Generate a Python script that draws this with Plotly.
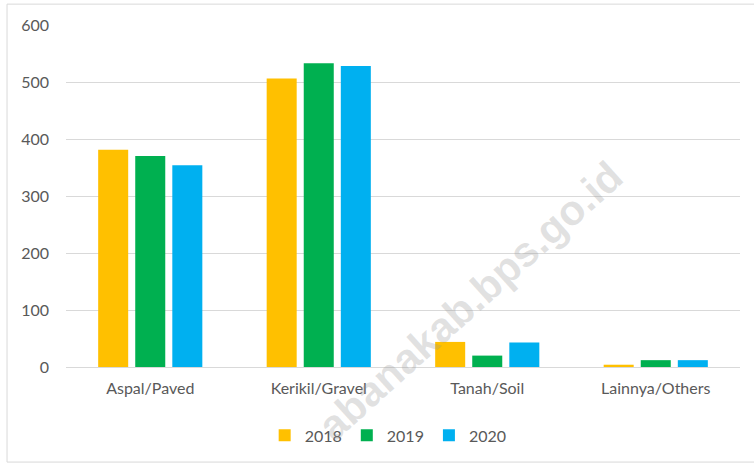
import plotly.graph_objects as go

categories = ["Aspal/Paved", "Kerikil/Gravel", "Tanah/Soil", "Lainnya/Others"]
years = ["2018", "2019", "2020"]
values_2018 = [381, 506, 44, 4]
values_2019 = [370, 533, 20, 12]
values_2020 = [354, 528, 43, 12]
colors = ["#FFC000", "#00B050", "#00B0F0"]
y_ticks = [0, 100, 200, 300, 400, 500, 600]

series = [values_2018, values_2019, values_2020]
font_family = "Lato, 'Open Sans', sans-serif"
text_color = "#595959"

fig = go.Figure()
for name, vals, col in zip(years, series, colors):
    fig.add_trace(go.Bar(
        x=categories, y=vals, name=name,
        marker=dict(color=col, line=dict(width=0)),
    ))

fig.update_layout(
    width=754, height=465,
    margin=dict(l=66, r=14, t=25, b=98, autoexpand=False),
    paper_bgcolor="white", plot_bgcolor="white",
    barmode="group", bargap=0.34, bargroupgap=0.19,
    font=dict(family=font_family, size=16, color=text_color),
    showlegend=True,
    legend=dict(orientation="h", x=0.478, xanchor="center", y=-0.2, yanchor="middle",
                font=dict(size=16, color=text_color), itemwidth=30, traceorder="normal"),
    xaxis=dict(showgrid=False, showline=False, ticks="", ticklabelstandoff=10,
               tickfont=dict(size=16, color=text_color)),
    yaxis=dict(range=[0, 600], tickvals=y_ticks, showgrid=True, gridcolor="#D9D9D9", gridwidth=1,
               zeroline=True, zerolinecolor="#D9D9D9", zerolinewidth=1, showline=False, ticks="",
               ticklabelstandoff=16, tickfont=dict(size=16, color=text_color)),
    shapes=[dict(type="rect", xref="paper", yref="paper", x0=-0.0875, x1=1.05, y0=-0.278, y1=1.061,
                 line=dict(color="#D9D9D9", width=1), fillcolor="rgba(0,0,0,0)", layer="below")],
    annotations=[dict(text="<b>abanakab.bps.go.id</b>", xref="paper", yref="paper", x=0.6, y=0.195,
                      xanchor="center", yanchor="middle",
                      showarrow=False, textangle=-42,
                      font=dict(family="Liberation Sans, Arial, sans-serif", size=42,
                                color="rgba(150,150,150,0.28)"))],
)

fig.write_html("out.html", config={"displayModeBar": False},
               post_script="document.body.style.margin='0';document.body.style.overflow='hidden';")
